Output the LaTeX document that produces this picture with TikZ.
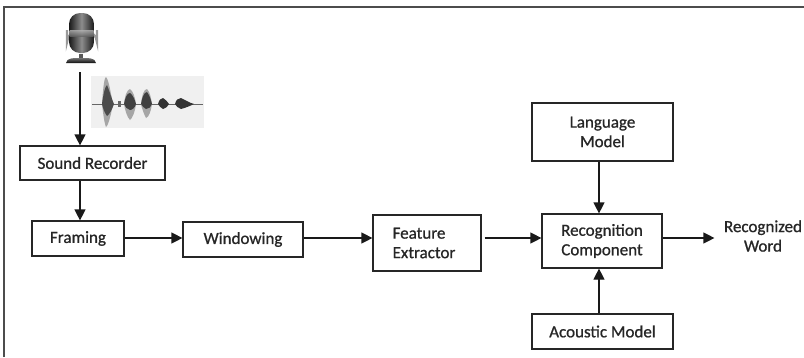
\documentclass[tikz,border=0pt]{standalone}
\usepackage{fontspec}
\setmainfont{Carlito}[BoldFont=Carlito,BoldFeatures={FakeBold=0.9}]
\usetikzlibrary{arrows.meta,calc}
\begin{document}
\begin{tikzpicture}[x=1pt,y=-1pt,
  blockbox/.style={draw=black!85,line width=1.2pt,inner sep=2pt,
    font=\fontsize{17}{19.5}\selectfont\bfseries,text=black!85,align=center},
  flow/.style={draw=black!90,line width=1.2pt,-{Triangle[length=11pt,width=11pt]}}]
\useasboundingbox (0,0) rectangle (804,357);

% frame edges (top and left)
\draw[line width=1.5pt,black!70] (4,357) -- (4,7) -- (804,7);

% microphone icon
\draw[line width=2.4pt,black!40] (67,30) -- (67,42) arc[start angle=180,end angle=360,x radius=15,y radius=12] -- (97,30);
\shade[left color=black!90,right color=black!90,middle color=black!45,rounded corners=11pt]
  (69,13) rectangle (94,53);
\shade[top color=black!30,bottom color=black!60,opacity=0.8] (69.5,30) rectangle (93.5,36);
\fill[black!65] (79,54) rectangle (83,59);
\shade[top color=black!55,bottom color=black!95]
  (66,63) .. controls (67,58) and (72,58) .. (81,58) .. controls (90,58) and (95,58) .. (96,63) -- cycle;

% waveform picture
\fill[black!6] (91,76) rectangle (204,128);
\draw[black!60,line width=0.6pt] (92,104) -- (203,104);
\fill[black!35] (102,104) .. controls (103,90) and (104,78) .. (106,77) .. controls (109,80) and (111,95) .. (113,104)
  .. controls (111,115) and (108,126) .. (106,127) .. controls (104,122) and (103,112) .. (102,104) -- cycle;
\fill[black!70] (102,104) .. controls (103,96) and (105,86) .. (107,85) .. controls (110,92) and (112,100) .. (114,104)
  .. controls (112,110) and (109,115) .. (107,116) .. controls (104,112) and (103,108) .. (102,104) -- cycle;
\fill[black!35] (124,104) .. controls (125,95) and (127,90) .. (130,89) .. controls (133,91) and (135,97) .. (136,104)
  .. controls (135,112) and (132,119) .. (130,120) .. controls (127,117) and (125,110) .. (124,104) -- cycle;
\fill[black!75] (124,104) .. controls (125,98) and (127,93) .. (130,93) .. controls (133,95) and (135,100) .. (136,104)
  .. controls (135,108) and (132,110) .. (130,110) .. controls (127,109) and (125,107) .. (124,104) -- cycle;
\fill[black!35] (141,104) .. controls (142,95) and (144,89) .. (147,89) .. controls (150,92) and (151,98) .. (152,104)
  .. controls (151,111) and (149,117) .. (146,118) .. controls (144,114) and (142,109) .. (141,104) -- cycle;
\fill[black!75] (141,104) .. controls (142,98) and (144,92) .. (147,92) .. controls (150,96) and (151,100) .. (152,104)
  .. controls (151,107) and (149,109) .. (146,109) .. controls (144,108) and (142,106) .. (141,104) -- cycle;
\fill[black!80] (158,104) .. controls (159,100) and (161,98) .. (163,98) .. controls (166,99) and (167,102) .. (169,104)
  .. controls (167,107) and (165,109) .. (163,109) .. controls (161,108) and (159,106) .. (158,104) -- cycle;
\fill[black!80] (175,104) .. controls (176,100) and (178,98) .. (181,98) .. controls (185,100) and (190,103) .. (194,104)
  .. controls (190,106) and (185,108) .. (181,109) .. controls (178,108) and (176,106) .. (175,104) -- cycle;
\fill[black!60] (118,101) rectangle (121,107);

% processing blocks
\coordinate (mic) at (80,72);
\node[blockbox,minimum width=145pt,minimum height=34pt] (sr) at (92.5,163) {Sound Recorder};
\node[blockbox,minimum width=92pt,minimum height=35pt] (fr) at (78,238.5) {Framing};
\node[blockbox,minimum width=120pt,minimum height=35pt] (wi) at (243,239.5) {Windowing};
\node[blockbox,minimum width=108pt,minimum height=56pt,align=left] (fe) at (427,243) {\hspace*{-6pt}Feature\\\hspace*{-6pt}Extractor};
\node[blockbox,minimum width=120pt,minimum height=54pt] (rc) at (602,241) {Recognition\\Component};
\node[blockbox,minimum width=141pt,minimum height=58pt] (lm) at (602.5,132) {Language\\Model};
\node[blockbox,minimum width=141pt,minimum height=35pt] (am) at (602.5,331.5) {Acoustic Model};
\node[blockbox,draw=none,inner sep=1pt] (wd) at (763,236) {Recognized\\Word};

% connectors
\draw[flow] (mic) -- (mic |- sr.north);
\draw[flow] (mic |- sr.south) -- (mic |- fr.north);
\draw[flow] (fr.east |- 0,238) -- (wi.west |- 0,238);
\draw[flow] (wi.east |- 0,238) -- (fe.west |- 0,238);
\draw[flow] ($(fe.east |- 0,238)+(3,0)$) -- (rc.west |- 0,238);
\draw[flow] (lm.south -| 599,0) -- (rc.north -| 599,0);
\draw[flow] (am.north -| 599,0) -- (rc.south -| 599,0);
\draw[flow] (rc.east |- 0,238) -- ($(wd.west |- 0,238)+(-8,0)$);
\end{tikzpicture}
\end{document}
